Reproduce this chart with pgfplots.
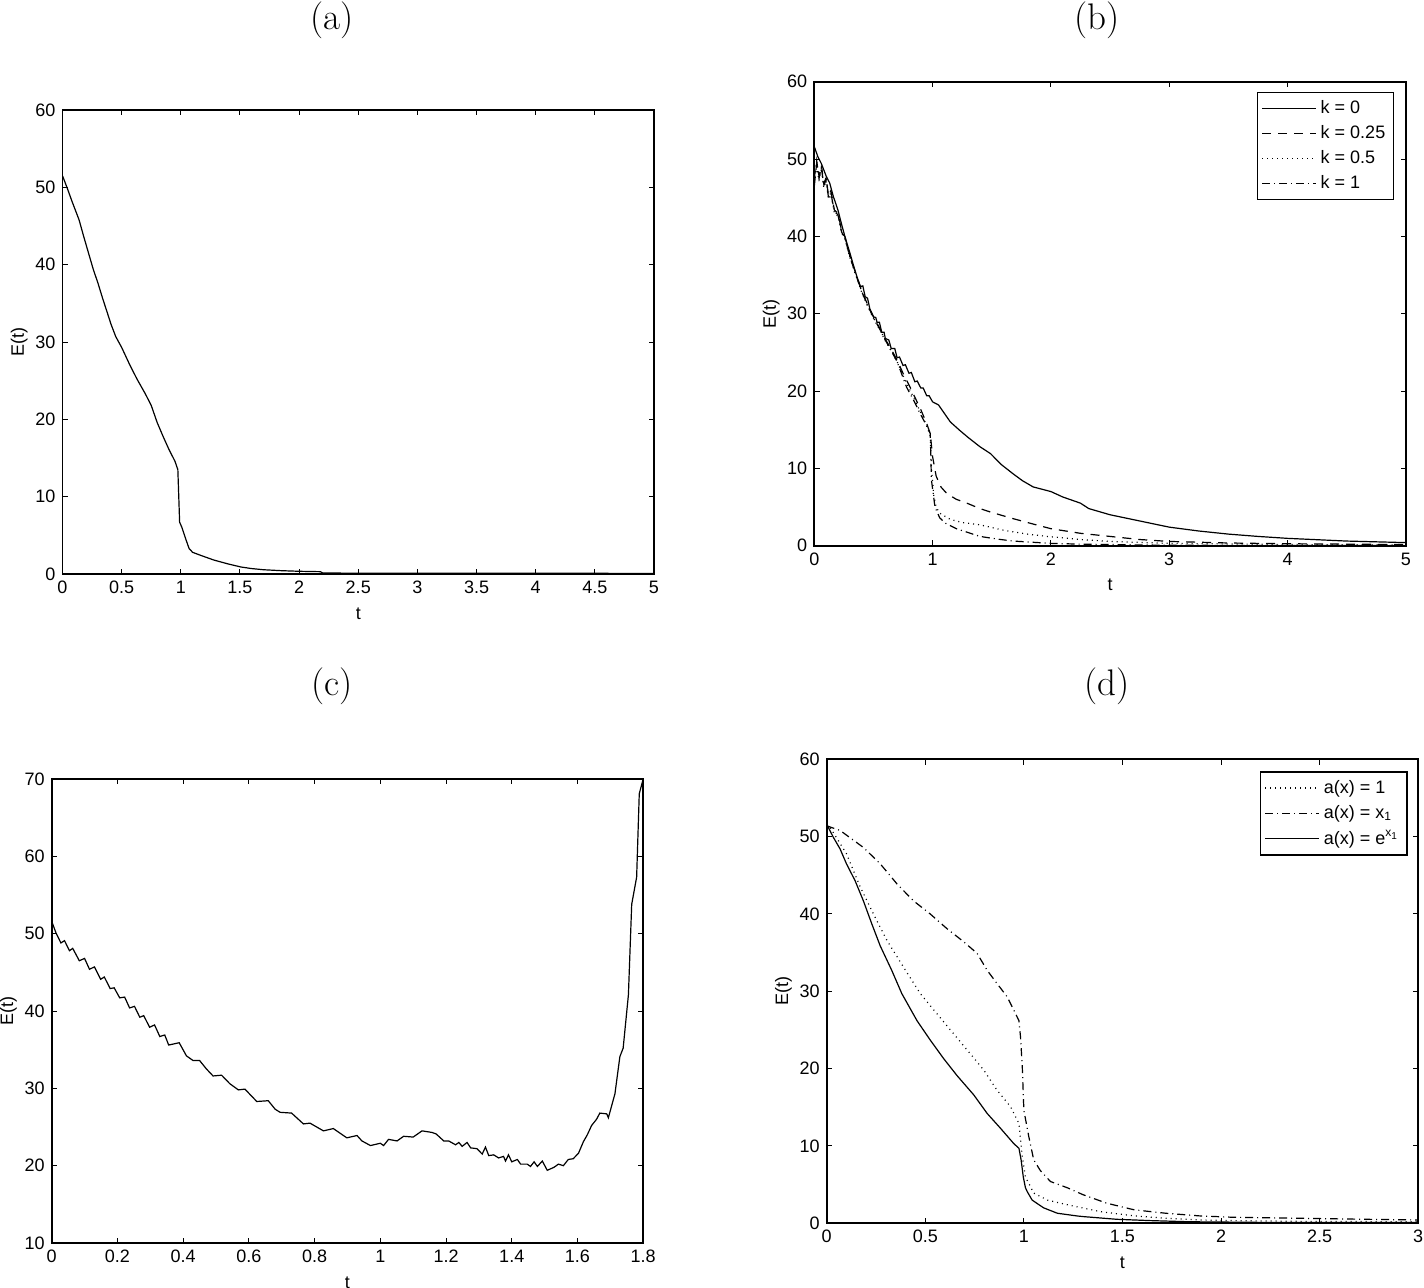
\documentclass[border=0pt]{standalone}
\usepackage{fontspec}
\setsansfont{Liberation Sans}
\usepackage{pgfplots}
\pgfplotsset{compat=1.18}
\pgfplotsset{
  panel/.style={
    scale only axis, width=295.75pt, height=232pt,
    axis line style={line width=0.9pt},
    tick style={line width=0.5pt, black},
    major tick length=2.6pt,
    tick align=inside,
    ticklabel style={font=\fontsize{9}{10}\selectfont\sffamily},
    label style={font=\fontsize{9}{10}\selectfont\sffamily},
    ylabel shift=-3pt,
    /pgf/number format/assume math mode=true,
    scaled ticks=false,
    xlabel={t}, ylabel={E(t)},
    every axis plot/.append style={line width=0.6pt, black, mark=none},
    legend style={font=\fontsize{9}{10}\selectfont\sffamily, draw=black, line width=0.7pt,
      anchor=north east, inner sep=2pt, row sep=0.5pt},
    legend cell align=left,
    legend image code/.code={\draw[#1, line width=0.6pt] (0pt,0pt) -- (27pt,0pt);},
  },
  solidm/.style={black, solid, mark=none},
  dashedm/.style={black, mark=none, dash pattern=on 4.5pt off 3.5pt},
  dottedm/.style={black, mark=none, dash pattern=on 0.5pt off 2pt},
  dashdotm/.style={black, mark=none, dash pattern=on 4pt off 2pt on 0.5pt off 2pt},
}
\begin{document}
\begin{tikzpicture}
\useasboundingbox (0pt,0pt) rectangle (712pt,643.5pt);
\node[font=\fontsize{18.5}{20}\selectfont\rmfamily] at (166pt,633.5pt) {(a)};
\node[font=\fontsize{18.5}{20}\selectfont\rmfamily] at (548.5pt,633.5pt) {(b)};
\node[font=\fontsize{18.5}{20}\selectfont\rmfamily] at (166pt,300.5pt) {(c)};
\node[font=\fontsize{18.5}{20}\selectfont\rmfamily] at (553.5pt,300.5pt) {(d)};

% (a)
\begin{axis}[panel, at={(31.25pt,356.5pt)}, anchor=south west,
  xmin=0, xmax=5, ymin=0, ymax=60,
  xtick={0,0.5,1,1.5,2,2.5,3,3.5,4,4.5,5}, ytick={0,10,20,30,40,50,60}]
\addplot[solidm] coordinates {
(0,51.5)(0.04,49.9)(0.08,48.2)(0.14,45.8)(0.18,43.6)(0.22,41.5)(0.26,39.4)(0.30,37.6)
(0.34,35.6)(0.37,34.2)(0.41,32.3)(0.45,30.7)(0.5,29.3)(0.57,27.0)(0.63,25.2)(0.7,23.3)
(0.75,21.8)(0.8,19.6)(0.85,17.8)(0.9,16.1)(0.95,14.6)(0.975,13.5)(0.985,9.0)(0.99,6.7)
(1.01,6.0)(1.04,4.6)(1.07,3.3)(1.1,2.8)(1.17,2.4)(1.28,1.8)(1.4,1.3)(1.51,0.9)(1.6,0.7)
(1.7,0.55)(1.85,0.43)(2.0,0.35)(2.18,0.3)(2.2,0.12)(3,0.1)(4,0.09)(5,0.08)};
\end{axis}

% (b)
\begin{axis}[panel, at={(407.15pt,370.65pt)}, anchor=south west,
  xmin=0, xmax=5, ymin=0, ymax=60,
  xtick={0,1,2,3,4,5}, ytick={0,10,20,30,40,50,60},
  legend style={at={(0.98,0.978)}}]
\addplot[solidm] coordinates {
(0,51.6)(0.03,50.3)(0.06,49.4)(0.1,47.8)(0.13,46.9)(0.16,45.2)(0.2,43.4)(0.23,41.6)
(0.26,39.9)(0.3,37.9)(0.33,36.3)(0.36,34.8)(0.39,33.5)(0.41,33.6)(0.43,32.2)(0.45,32.0)
(0.47,30.6)(0.5,29.6)(0.52,29.5)(0.53,28.9)(0.55,28.9)(0.57,27.6)(0.59,27.6)(0.6,26.8)
(0.63,26.6)(0.65,25.5)(0.68,25.5)(0.7,24.3)(0.72,24.4)(0.75,23.3)(0.77,23.4)(0.8,22.3)
(0.82,22.4)(0.85,21.2)(0.87,21.3)(0.9,20.4)(0.92,20.4)(0.95,19.4)(0.97,19.4)(1.0,18.6)
(1.05,18.2)(1.1,17.1)(1.15,16.0)(1.23,14.9)(1.3,14.0)(1.4,12.8)(1.49,11.9)(1.58,10.5)
(1.68,9.3)(1.76,8.4)(1.85,7.6)(2.0,7.0)(2.1,6.3)(2.25,5.5)(2.32,4.8)(2.5,4.0)(2.75,3.2)
(3.0,2.4)(3.25,1.9)(3.5,1.5)(3.75,1.2)(4.0,0.95)(4.5,0.6)(5.0,0.4)};
\addlegendentry{k = 0}
\addplot[dashedm] coordinates {
(0,46.5)(0.02,49.5)(0.04,47.8)(0.06,49.2)(0.08,46.8)(0.1,47.6)(0.12,45.2)(0.14,45.9)
(0.17,43.4)(0.2,43.0)(0.23,40.8)(0.26,39.9)(0.3,37.5)(0.35,35.2)(0.4,33.0)(0.45,31.2)
(0.5,29.6)(0.55,28.2)(0.6,26.7)(0.65,25.4)(0.7,24.0)(0.75,22.3)(0.8,20.8)(0.85,19.2)
(0.9,17.6)(0.95,15.8)(0.98,14.5)(1.0,11.5)(1.03,9.0)(1.07,7.6)(1.12,6.75)(1.2,6.0)
(1.29,5.5)(1.4,4.8)(1.5,4.3)(1.68,3.5)(1.85,2.8)(2.0,2.2)(2.25,1.6)(2.5,1.2)(2.75,0.8)
(3.0,0.55)(3.5,0.35)(4.0,0.25)(5.0,0.15)};
\addlegendentry{k = 0.25}
\addplot[dottedm] coordinates {
(0,47.0)(0.02,49.0)(0.04,47.2)(0.06,48.8)(0.08,46.3)(0.1,47.2)(0.12,44.8)(0.14,45.4)
(0.17,43.0)(0.2,42.6)(0.23,40.5)(0.26,39.6)(0.3,37.3)(0.35,35.0)(0.4,32.8)(0.45,31.0)
(0.5,29.4)(0.55,28.0)(0.6,26.5)(0.65,25.2)(0.7,23.8)(0.75,22.0)(0.8,20.4)(0.85,18.8)
(0.9,17.2)(0.95,15.5)(0.98,14.2)(0.99,10.0)(1.01,6.5)(1.03,5.0)(1.06,4.2)(1.15,3.4)
(1.25,3.0)(1.4,2.7)(1.6,2.0)(1.8,1.5)(1.97,1.2)(2.25,0.8)(2.5,0.55)(3.0,0.3)(4.0,0.15)(5.0,0.1)};
\addlegendentry{k = 0.5}
\addplot[dashdotm] coordinates {
(0,47.5)(0.02,49.8)(0.04,47.5)(0.06,49.0)(0.08,46.5)(0.1,47.4)(0.12,45.0)(0.14,45.6)
(0.17,43.2)(0.2,42.8)(0.23,40.6)(0.26,39.7)(0.3,37.4)(0.35,35.1)(0.4,32.9)(0.45,31.1)
(0.5,29.5)(0.55,28.1)(0.6,26.6)(0.65,25.2)(0.7,23.8)(0.78,20.5)(0.85,18.5)(0.894,17.1)
(0.95,15.5)(0.98,14.5)(0.99,8.5)(1.02,5.0)(1.06,3.6)(1.11,2.9)(1.2,2.2)(1.3,1.7)(1.4,1.2)
(1.55,0.85)(1.68,0.6)(2.0,0.3)(2.25,0.2)(3.0,0.05)(5.0,0.02)};
\addlegendentry{k = 1}
\end{axis}

% (c)
\begin{axis}[panel, at={(25.85pt,22pt)}, anchor=south west,
  xmin=0, xmax=1.8, ymin=10, ymax=70,
  xtick={0,0.2,0.4,0.6,0.8,1,1.2,1.4,1.6,1.8}, ytick={10,20,30,40,50,60,70}]
\addplot[solidm] coordinates {
(0,51.6)(0.013,50.1)(0.028,48.8)(0.039,49.1)(0.054,47.8)(0.064,48.1)(0.084,46.5)(0.1,46.8)
(0.115,45.4)(0.13,45.7)(0.149,44.1)(0.16,44.4)(0.178,42.9)(0.19,43.0)(0.207,41.7)(0.222,41.8)
(0.237,40.4)(0.252,40.6)(0.268,39.2)(0.28,39.4)(0.298,37.9)(0.313,38.2)(0.329,36.7)(0.344,36.9)
(0.356,35.6)(0.388,35.9)(0.41,34.2)(0.43,33.6)(0.45,33.6)(0.471,32.5)(0.491,31.6)(0.517,31.7)
(0.542,30.6)(0.568,29.8)(0.588,29.9)(0.624,28.3)(0.659,28.4)(0.68,27.3)(0.695,26.9)(0.73,26.8)
(0.766,25.4)(0.786,25.5)(0.827,24.5)(0.857,24.8)(0.898,23.6)(0.929,23.9)(0.944,23.2)(0.97,22.6)
(1.0,22.9)(1.01,22.6)(1.025,23.4)(1.051,23.2)(1.071,23.8)(1.1,23.7)(1.127,24.5)(1.157,24.3)
(1.17,24.1)(1.193,23.2)(1.208,23.2)(1.229,22.7)(1.239,23.0)(1.249,22.5)(1.264,23.0)(1.275,22.3)
(1.294,22.2)(1.31,21.5)(1.32,22.4)(1.33,21.3)(1.345,21.4)(1.36,21.0)(1.375,21.2)(1.381,20.6)
(1.39,21.4)(1.4,20.5)(1.417,20.8)(1.427,20.2)(1.447,20.2)(1.457,19.9)(1.468,20.5)(1.478,19.9)
(1.493,20.6)(1.508,19.4)(1.529,19.8)(1.542,20.2)(1.557,20.0)(1.572,20.8)(1.587,20.9)
(1.603,21.6)(1.618,23.1)(1.63,24.0)(1.643,25.2)(1.658,26.0)(1.668,26.8)(1.689,26.7)
(1.694,26.2)(1.714,29.3)(1.729,34.1)(1.739,35.2)(1.755,42.1)(1.765,53.8)(1.78,57.3)
(1.788,68.1)(1.8,70)};
\end{axis}

% (d)
\begin{axis}[panel, at={(413.35pt,31.85pt)}, anchor=south west,
  xmin=0, xmax=3, ymin=0, ymax=60,
  xtick={0,0.5,1,1.5,2,2.5,3}, ytick={0,10,20,30,40,50,60},
  legend style={at={(0.982,0.974)}}]
\addplot[dottedm] coordinates {
(0,51.6)(0.017,51.2)(0.1,47.8)(0.17,43.5)(0.237,40.0)(0.305,36.6)(0.39,33.1)(0.475,29.7)
(0.559,27.1)(0.644,24.5)(0.729,21.9)(0.797,19.8)(0.864,17.2)(0.932,15.1)(0.975,12.9)
(0.99,9.0)(1.008,6.0)(1.05,3.9)(1.12,3.0)(1.22,2.4)(1.39,1.5)(1.56,0.96)(1.72,0.65)
(1.89,0.43)(2.06,0.35)(2.4,0.25)(3,0.2)};
\addlegendentry{a(x) = 1}
\addplot[dashdotm] coordinates {
(0,51.4)(0.068,50.8)(0.186,48.6)(0.271,46.5)(0.356,43.9)(0.44,41.7)(0.525,40.0)(0.61,38.1)
(0.695,36.4)(0.763,34.9)(0.814,32.7)(0.864,31.0)(0.915,29.3)(0.958,27.1)(0.975,26.2)
(0.983,24.1)(0.992,20.2)(1.0,14.6)(1.025,11.2)(1.05,8.2)(1.084,6.8)(1.135,5.4)(1.22,4.6)
(1.30,3.7)(1.42,2.6)(1.56,1.74)(1.72,1.3)(1.89,0.96)(2.06,0.78)(2.4,0.65)(2.73,0.52)(3,0.43)};
\addlegendentry{a(x) = x\textsubscript{1}}
\addplot[solidm] coordinates {
(0,51.6)(0.034,49.9)(0.068,48.4)(0.1,46.5)(0.144,44.3)(0.186,41.7)(0.229,38.7)(0.271,35.9)
(0.33,32.7)(0.381,29.7)(0.458,26.2)(0.525,23.7)(0.593,21.3)(0.661,19.1)(0.746,16.6)
(0.814,14.2)(0.881,12.3)(0.949,10.3)(0.975,9.7)(0.986,8.2)(0.997,6.0)(1.008,4.6)(1.017,4.1)
(1.042,3.0)(1.1,2.0)(1.17,1.3)(1.27,0.95)(1.3,0.87)(1.47,0.52)(1.64,0.35)(1.84,0.2)(2.2,0.12)(3,0.1)};
\addlegendentry{a(x) = e\textsuperscript{x\textsubscript{1}}}
\end{axis}
\end{tikzpicture}
\end{document}
